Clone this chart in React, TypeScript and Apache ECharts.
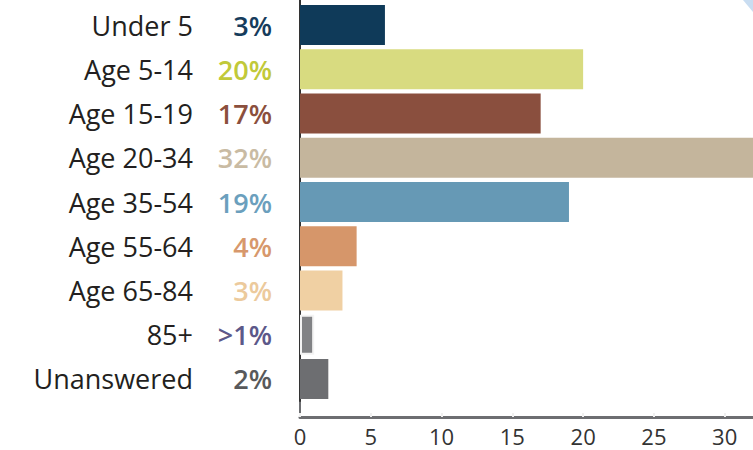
import React, { useEffect, useRef } from "react";
import * as echarts from "echarts";

const categories = ["Under 5", "Age 5-14", "Age 15-19", "Age 20-34", "Age 35-54", "Age 55-64", "Age 65-84", "85+", "Unanswered"];
const values = [6, 20, 17, 32, 19, 4, 3, 1.0, 2];
const pctLabels = ["3%", "20%", "17%", "32%", "19%", "4%", "3%", ">1%", "2%"];
const barColors = ["#0f3a59", "#d8db80", "#8a4f3e", "#c4b59c", "#6699b5", "#d6966a", "#f0d0a3", "#818285", "#6d6e71"];
const pctColors = ["#163c5c", "#c1c939", "#8b4f3d", "#c9bba3", "#6b9fbd", "#d7986c", "#ecca9c", "#5c5889", "#58595b"];
const xTicks = [0, 5, 10, 15, 20, 25, 30];

export default function App() {
  const ref = useRef<HTMLDivElement>(null);
  useEffect(() => {
    if (!ref.current) return;
    const chart = echarts.init(ref.current, null, { renderer: "svg" });
    const rich: any = {
      n: { fontFamily: "Open Sans", fontSize: 27, fontWeight: 500, color: "#231f20", align: "right" },
    };
    pctColors.forEach((c, i) => {
      rich["p" + i] = {
        fontFamily: "Open Sans",
        fontSize: 27,
        fontWeight: 600,
        color: c,
        width: 79,
        align: "right",
      };
    });
    chart.setOption({
      animation: false,
      grid: { left: 300, top: 3, height: 398, right: 0, containLabel: false },
      xAxis: {
        type: "value",
        min: xTicks[0],
        max: 32,
        interval: 5,
        offset: 16,
        axisLine: { show: true, lineStyle: { color: "#6d6e71", width: 3 } },
        axisTick: { show: true, inside: true, length: 4, lineStyle: { color: "#f0f0f0", width: 2 } },
        splitLine: { show: false },
        axisLabel: {
          showMaxLabel: false,
          fontFamily: "Open Sans",
          fontSize: 22,
          color: "#333333",
          margin: 8,
          formatter: (v: number) => (xTicks.includes(v) ? String(v) : ""),
        },
      },
      yAxis: {
        type: "category",
        inverse: true,
        data: categories,
        axisLine: { show: true, lineStyle: { color: "#333333", width: 2 } },
        axisTick: { show: false },
        axisLabel: {
          margin: 28,
          rich,
          formatter: (v: string) => {
            const i = categories.indexOf(v);
            return `{n|${v}}{p${i}|${pctLabels[i]}}`;
          },
        },
      },
      series: [
        {
          type: "bar",
          barWidth: 40,
          data: values.map((v, i) => ({
            value: v,
            itemStyle:
              i === 7
                ? { color: barColors[i], borderColor: "#f3f3f3", borderWidth: 2 }
                : { color: barColors[i] },
          })),
        },
      ],
      graphic: [
        { type: "line", shape: { x1: 300, y1: 401, x2: 300, y2: 417 }, style: { stroke: "#6d6e71", lineWidth: 2 } },
        { type: "line", shape: { x1: 300, y1: 0, x2: 300, y2: 3 }, style: { stroke: "#333333", lineWidth: 2 } },
        { type: "polygon", shape: { points: [[743, 0], [753, 0], [753, 12]] }, style: { fill: "#c9ddf1" } },
      ],
    });
    return () => chart.dispose();
  }, []);
  return <div ref={ref} style={{ width: 753, height: 450, position: "absolute", left: 0, top: 0 }} />;
}
